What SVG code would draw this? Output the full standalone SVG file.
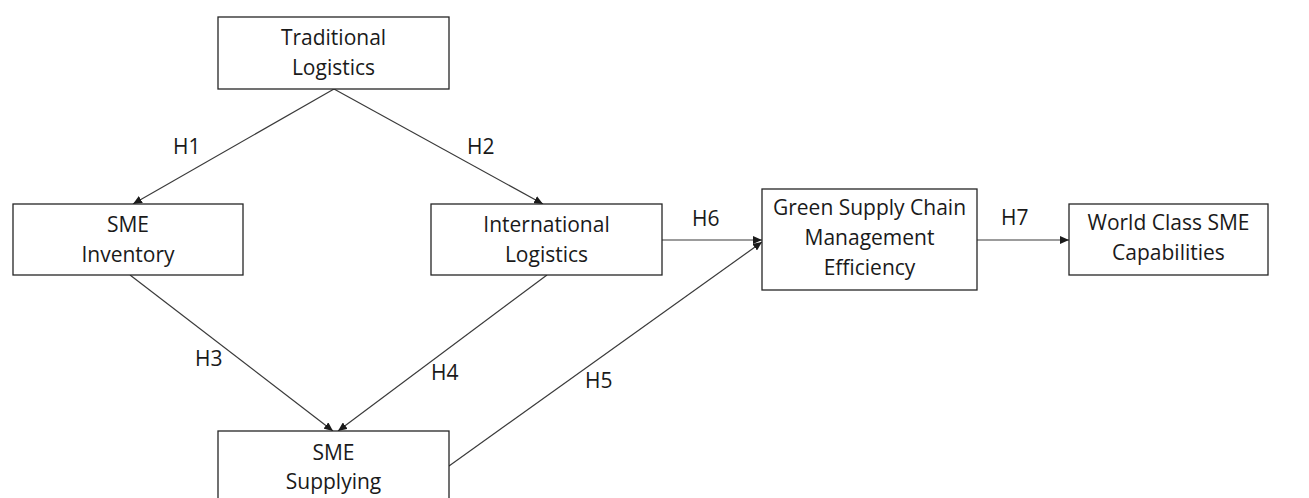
<svg xmlns="http://www.w3.org/2000/svg" width="1309" height="498" viewBox="0 0 1309 498">
<style>
.box{fill:#fff;stroke:#262626;stroke-width:1.3}
.t{font-family:"Open Sans","Liberation Sans",sans-serif;font-size:21px;fill:#1a1a1a;text-anchor:middle}
.l{font-family:"Open Sans","Liberation Sans",sans-serif;font-size:21px;fill:#1a1a1a}
.c{stroke:#3a3a3a;stroke-width:1.2;fill:none;marker-end:url(#ah)}
</style>
<defs>
<marker id="ah" markerUnits="userSpaceOnUse" markerWidth="9" markerHeight="8" refX="9" refY="4" orient="auto">
<path d="M0,0 L9,4 L0,8 z" fill="#1a1a1a"/>
</marker>
</defs>
<rect width="1309" height="498" fill="#fff"/>
<g id="connectors">
<line class="c" x1="334" y1="89" x2="133" y2="204"/>
<line class="c" x1="334" y1="89" x2="543" y2="204"/>
<line class="c" x1="130" y1="275" x2="333" y2="431"/>
<line class="c" x1="547" y1="275" x2="338" y2="431"/>
<line class="c" x1="449" y1="466" x2="762" y2="242"/>
<line class="c" x1="662" y1="240" x2="762" y2="240"/>
<line class="c" x1="977" y1="240" x2="1069" y2="240"/>
<text class="l" x="173" y="154">H1</text>
<text class="l" x="467" y="154">H2</text>
<text class="l" x="195" y="366">H3</text>
<text class="l" x="431" y="380">H4</text>
<text class="l" x="585" y="388">H5</text>
<text class="l" x="692" y="226">H6</text>
<text class="l" x="1001" y="225">H7</text>
</g>
<g id="traditional">
<rect class="box" x="218" y="17" width="231" height="72"/>
<text class="t" x="333.5" y="45">Traditional</text>
<text class="t" x="333.5" y="75">Logistics</text>
</g>
<g id="sme-inventory">
<rect class="box" x="13" y="204" width="230" height="71"/>
<text class="t" x="128" y="232">SME</text>
<text class="t" x="128" y="262">Inventory</text>
</g>
<g id="international">
<rect class="box" x="431" y="204" width="231" height="71"/>
<text class="t" x="546.5" y="232">International</text>
<text class="t" x="546.5" y="262">Logistics</text>
</g>
<g id="gscm">
<rect class="box" x="762" y="189" width="215" height="101"/>
<text class="t" x="869.5" y="215">Green Supply Chain</text>
<text class="t" x="869.5" y="245">Management</text>
<text class="t" x="869.5" y="275">Efficiency</text>
</g>
<g id="world-class">
<rect class="box" x="1069" y="204" width="199" height="71"/>
<text class="t" x="1168.5" y="230">World Class SME</text>
<text class="t" x="1168.5" y="260">Capabilities</text>
</g>
<g id="sme-supplying">
<rect class="box" x="218" y="431" width="231" height="75"/>
<text class="t" x="333.5" y="460">SME</text>
<text class="t" x="333.5" y="489">Supplying</text>
</g>
</svg>
